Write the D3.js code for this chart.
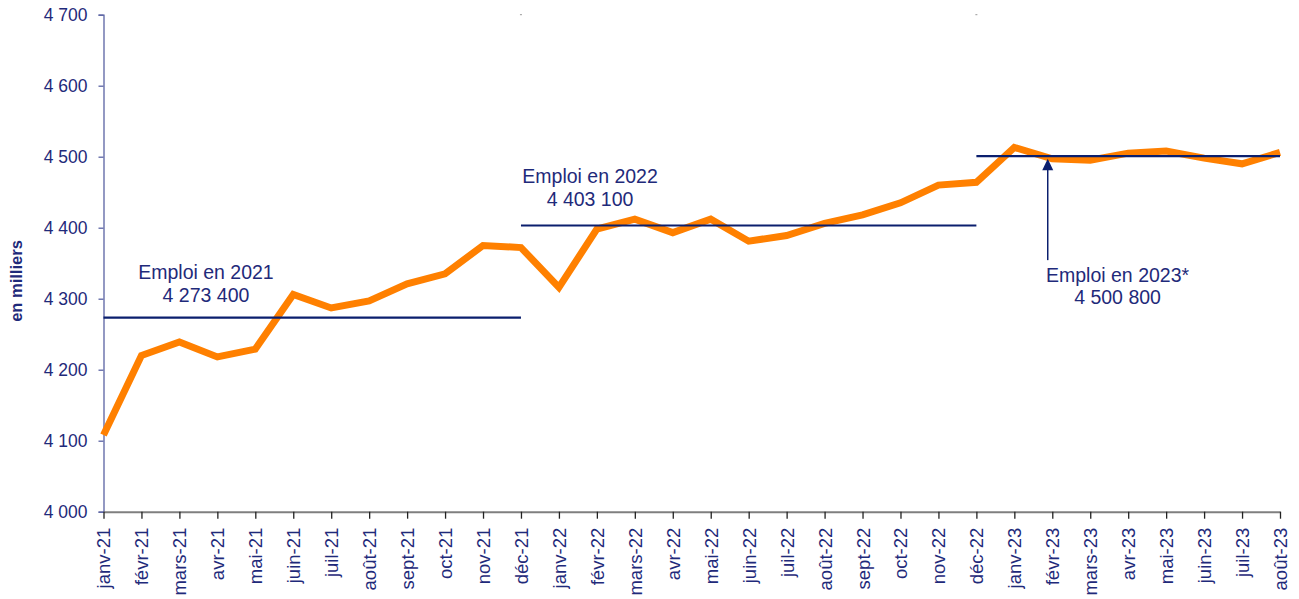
<!DOCTYPE html>
<html>
<head>
<meta charset="utf-8">
<script src="https://cdn.jsdelivr.net/npm/d3@7"></script>
<style>
  html, body { margin: 0; padding: 0; background: #fff; }
  svg { display: block; font-family: "Liberation Sans", Arial, sans-serif; }
</style>
</head>
<body>
<svg id="chart" width="1299" height="599"></svg>
<script>
const months = ["janv-21","févr-21","mars-21","avr-21","mai-21","juin-21","juil-21","août-21","sept-21","oct-21","nov-21","déc-21",
  "janv-22","févr-22","mars-22","avr-22","mai-22","juin-22","juil-22","août-22","sept-22","oct-22","nov-22","déc-22",
  "janv-23","févr-23","mars-23","avr-23","mai-23","juin-23","juil-23","août-23"];
const emploi = [4108,4220,4239,4218,4229,4306,4287,4297,4321,4335,4375,4372,
  4316,4398,4412,4393,4412,4381,4389,4406,4418,4435,4460,4464,
  4513,4497,4495,4505,4508,4498,4490,4506];
const yTicks = [4000,4100,4200,4300,4400,4500,4600,4700];
const moyennes = [
  {label: "Emploi en 2021", valueText: "4 273 400", value: 4273.4, from: "janv-21", to: "déc-21"},
  {label: "Emploi en 2022", valueText: "4 403 100", value: 4403.1, from: "déc-21", to: "déc-22"},
  {label: "Emploi en 2023*", valueText: "4 500 800", value: 4500.8, from: "déc-22", to: "août-23"}
];
const yTitle = "en milliers";

const textColor = "#1f2a7a";
const navy = "#0b1f6e";
const orange = "#ff8000";

const svg = d3.select("#chart");
const x = d3.scalePoint().domain(months).range([103.5, 1280]).padding(0);
const y = d3.scaleLinear().domain([4000, 4700]).range([511.7, 14.7]);
const fmt = v => d3.format(",")(v).replace(/,/g, " ");

// Y axis
const yAxis = svg.append("g").attr("transform", "translate(103.5,0)")
  .call(d3.axisLeft(y).tickValues(yTicks).tickSize(5).tickPadding(11).tickFormat(fmt));
yAxis.select(".domain").attr("stroke", "#5a63a3").attr("stroke-width", 1.3);
yAxis.selectAll(".tick line").attr("stroke", "#5a63a3").attr("stroke-width", 1.3);
yAxis.selectAll(".tick text").attr("fill", textColor).style("font-size", "17.5px")
  .style("font-family", "'Liberation Sans', Arial, sans-serif").attr("dy", "0.35em");

// X axis
const xAxis = svg.append("g").attr("transform", "translate(0,511.7)")
  .call(d3.axisBottom(x).tickSize(7).tickSizeOuter(0));
xAxis.select(".domain").attr("stroke", "#7f7f7f").attr("stroke-width", 2);
xAxis.selectAll(".tick line").attr("stroke", "#222").attr("stroke-width", 1.3);
xAxis.selectAll(".tick text")
  .attr("fill", textColor).style("font-size", "18.5px")
  .style("font-family", "'Liberation Sans', Arial, sans-serif")
  .attr("text-anchor", "end")
  .attr("transform", "rotate(-90)")
  .attr("x", -16).attr("y", 0).attr("dy", "0.35em");

// small marks at top
["déc-21","déc-22"].forEach(m => {
  svg.append("line").attr("x1", x(m) - 1).attr("x2", x(m) + 1)
    .attr("y1", y(4700)).attr("y2", y(4700))
    .attr("stroke", "#999").attr("stroke-width", 1);
});

// Y title
svg.append("text")
  .attr("transform", "translate(22,281) rotate(-90)")
  .attr("text-anchor", "middle")
  .attr("fill", textColor)
  .style("font-size", "16.5px").style("font-weight", "bold")
  .text(yTitle);

// Orange line
const line = d3.line().x((d, i) => x(months[i])).y(d => y(d));
svg.append("path").datum(emploi)
  .attr("d", line).attr("fill", "none")
  .attr("stroke", orange).attr("stroke-width", 7)
  .attr("stroke-linejoin", "miter").attr("stroke-linecap", "butt");

// Average lines
moyennes.forEach(m => {
  svg.append("line")
    .attr("x1", x(m.from)).attr("x2", x(m.to))
    .attr("y1", y(m.value)).attr("y2", y(m.value))
    .attr("stroke", navy).attr("stroke-width", 2.2);
});

const step = x.step();
function annot(lines, cx, baselines) {
  lines.forEach((t, i) => {
    svg.append("text").attr("x", cx).attr("y", baselines[i])
      .attr("text-anchor", "middle").attr("fill", textColor)
      .style("font-size", "19.5px").text(t);
  });
}
// 2021
{
  const m = moyennes[0];
  const ly = y(m.value);
  annot([m.label, m.valueText], x(months[2]) + 0.7 * step, [ly - 38.5, ly - 16]);
}
// 2022
{
  const m = moyennes[1];
  const ly = y(m.value);
  annot([m.label, m.valueText], x(months[13]) - 0.18 * step, [ly - 42.5, ly - 19]);
}
// 2023 with arrow
{
  const m = moyennes[2];
  const ly = y(m.value);
  const ax = x(months[24]) + 0.88 * step;
  svg.append("line").attr("x1", ax).attr("x2", ax)
    .attr("y1", ly + 104).attr("y2", ly + 12)
    .attr("stroke", navy).attr("stroke-width", 1.5);
  svg.append("path")
    .attr("d", `M${ax},${ly + 2.5} L${ax - 5.5},${ly + 14} L${ax + 5.5},${ly + 14} Z`)
    .attr("fill", navy);
  annot([m.label, m.valueText], x(months[27]) - 0.28 * step, [ly + 126, ly + 148]);
}
</script>
</body>
</html>
